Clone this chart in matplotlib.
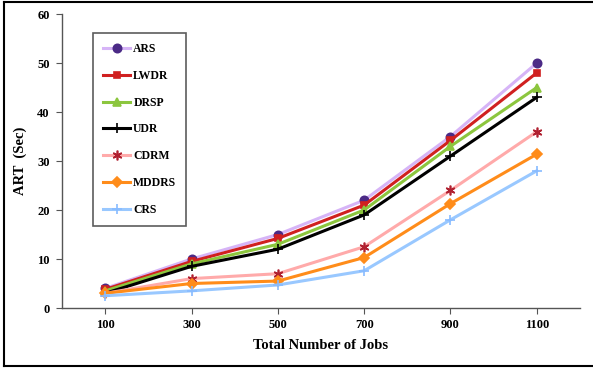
import matplotlib.pyplot as plt
from matplotlib.lines import Line2D

plt.rcParams['font.family'] = ['Liberation Serif', 'DejaVu Serif']
plt.rcParams['font.weight'] = 'bold'

jobs = [100, 300, 500, 700, 900, 1100]
ars = [4.0, 10.0, 15.0, 22.0, 35.0, 50.0]
lwdr = [3.8, 9.5, 14.2, 21.0, 34.2, 48.0]
drsp = [3.5, 9.0, 13.0, 20.0, 33.0, 45.0]
udr = [3.0, 8.5, 12.0, 19.0, 31.0, 43.0]
cdrm = [3.0, 6.0, 7.0, 12.5, 24.0, 36.0]
mddrs = [3.0, 5.0, 5.5, 10.3, 21.3, 31.4]
crs = [2.5, 3.5, 4.7, 7.6, 18.0, 28.0]

fig = plt.figure(figsize=(5.93, 3.69), dpi=100)
ax = fig.add_axes([0.1046, 0.1653, 0.8734, 0.7967])

# line colour, marker, marker colour
series = [
    ('ARS', ars, '#d6b4f7', 'o', '#4b2a86', 6),
    ('LWDR', lwdr, '#d02020', 's', '#d02020', 5),
    ('DRSP', drsp, '#8cc63e', '^', '#8cc63e', 6),
    ('UDR', udr, '#000000', '+', '#000000', 7),
    ('CDRM', cdrm, '#ffaaaa', (6, 2, 0), '#b02030', 7),
    ('MDDRS', mddrs, '#ff8c1a', 'D', '#ff8c1a', 5),
    ('CRS', crs, '#99c8ff', '+', '#88bbff', 7),
]
for name, vals, lc, mk, mc, ms in series:
    ax.plot(jobs, vals, color=lc, lw=2.2, marker=mk, markersize=ms,
            markerfacecolor=mc, markeredgecolor=mc, markeredgewidth=1.2,
            label=name)

ax.set_xlim(0, 1200)
ax.set_ylim(0, 60)
ax.set_xticks(jobs)
ax.set_yticks(range(0, 61, 10))
ax.spines['top'].set_visible(False)
ax.spines['right'].set_visible(False)
for s in ['left', 'bottom']:
    ax.spines[s].set_color('#555555')
    ax.spines[s].set_linewidth(1.0)
ax.tick_params(axis='both', direction='out', length=4, color='#555555',
               labelsize=9, pad=5)
ax.tick_params(axis='x', pad=4)
ax.set_xlabel('Total Number of Jobs', fontsize=10.5, fontweight='bold', labelpad=6)
ax.set_ylabel('ART  (Sec)', fontsize=10.5, fontweight='bold', labelpad=7)

leg = ax.legend(loc='upper left', bbox_to_anchor=(0.06, 0.935), borderaxespad=0,
                fontsize=8.5, frameon=True, fancybox=False, edgecolor='#333333',
                handlelength=2.3, labelspacing=1.25, borderpad=0.85,
                handletextpad=0.25)
leg.get_frame().set_linewidth(1.2)

# frame round the figure (left, top and bottom only)
for xs, ys in [([0.007, 0.007], [0.008, 0.995]),
               ([0.007, 1.0], [0.995, 0.995]),
               ([0.007, 1.0], [0.008, 0.008])]:
    fig.add_artist(Line2D(xs, ys, transform=fig.transFigure, color='black', lw=1.5))

fig.savefig('out.png', dpi=100)
